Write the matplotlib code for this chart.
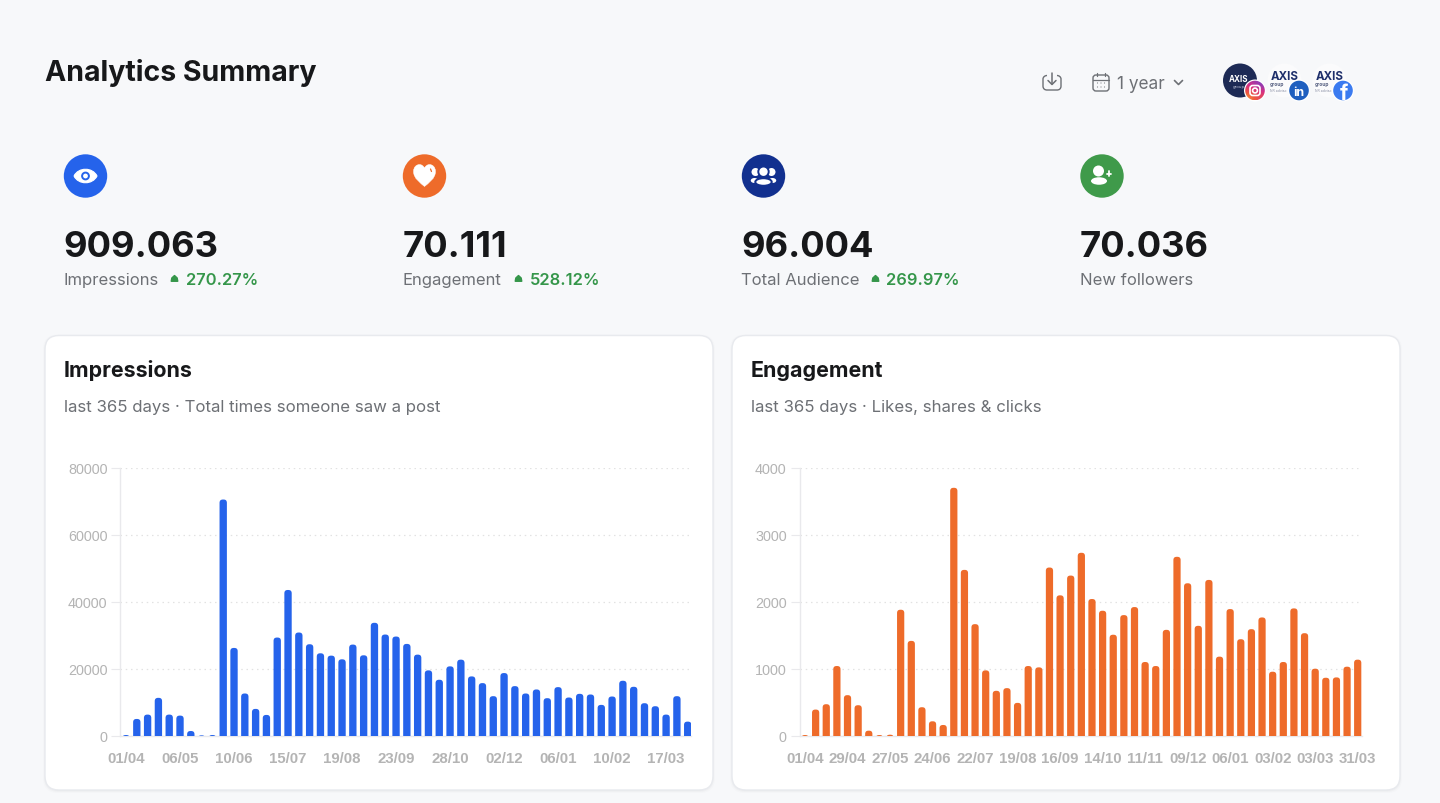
import numpy as np
import matplotlib
matplotlib.use("Agg")
import matplotlib.pyplot as plt
from matplotlib.patches import FancyBboxPatch, Circle, Ellipse, Polygon, PathPatch
from matplotlib.path import Path
from matplotlib.colors import LinearSegmentedColormap

# ---------- data ----------
impressions = [200, 5000, 6300, 11300, 6300, 6000, 1400, 100, 200, 70500, 26200, 12600, 8000, 6200,
               29300, 43500, 30800, 27300, 24600, 23900, 22800, 27200, 24000, 33700, 30200, 29600,
               27400, 24200, 19500, 16700, 20700, 22700, 17700, 15700, 11800, 18700, 14800, 12600,
               13800, 11200, 14500, 11400, 12500, 12300, 9200, 11700, 16400, 14600, 9700, 8800,
               6300, 11800, 4200]
engagement = [10, 390, 470, 1040, 605, 455, 75, 10, 15, 1880, 1415, 425, 215, 160, 3700, 2475, 1665,
              975, 670, 710, 490, 1040, 1020, 2510, 2095, 2390, 2730, 2040, 1865, 1507, 1800, 1920,
              1100, 1040, 1580, 2670, 2275, 1640, 2325, 1180, 1890, 1440, 1590, 1765, 955, 1100,
              1900, 1530, 1000, 865, 870, 1030, 1135]
imp_ticks = ["01/04", "06/05", "10/06", "15/07", "19/08", "23/09", "28/10", "02/12", "06/01", "10/02", "17/03"]
eng_ticks = ["01/04", "29/04", "27/05", "24/06", "22/07", "19/08", "16/09", "14/10", "11/11", "09/12",
             "06/01", "03/02", "03/03", "31/03"]
imp_yticks = [0, 20000, 40000, 60000, 80000]
eng_yticks = [0, 1000, 2000, 3000, 4000]
kpi_values = ["909.063", "70.111", "96.004", "70.036"]
kpi_labels = ["Impressions", "Engagement", "Total Audience", "New followers"]
kpi_deltas = ["270.27%", "528.12%", "269.97%", None]

W, H = 1440, 804
BG = "#f7f8fa"
BLUE = "#2563eb"
ORANGE = "#ee6b2a"
NAVY = "#12308f"
GREEN = "#3f9a4a"
DELTA = "#35964a"
INK = "#17181a"
GREY = "#6d7075"
TICK = "#b4b4b4"
LINE = "#e9e9ec"
GRID = "#e2e2e2"

plt.rcParams["font.family"] = ["Inter", "DejaVu Sans"]
fig = plt.figure(figsize=(W / 100, H / 100), dpi=100, facecolor=BG)
bg = fig.add_axes([0, 0, 1, 1], zorder=0)
bg.set_axis_off()


def T(x, y, s, size, color=INK, weight="normal", ha="left", zorder=5):
    return bg.text(x, y, s, fontsize=size, color=color, fontweight=weight, ha=ha, va="baseline", zorder=zorder)


def line(xs, ys, color, lw=1.1, zorder=5, cap="round"):
    bg.plot(xs, ys, color=color, lw=lw, solid_capstyle=cap, solid_joinstyle="round", zorder=zorder)


# ---------- cards ----------
for x0, x1 in [(45, 713), (732, 1400)]:
    for i, a in [(3, .012), (2, .018), (1, .025)]:
        bg.add_patch(FancyBboxPatch((x0 - i + 1, 336.5 - i + 2), x1 - x0 + 2 * i - 2, 454.5 + 2 * i - 2,
                                    boxstyle="round,pad=0,rounding_size=15", fc="#000000", ec="none", alpha=a, zorder=1))
    bg.add_patch(FancyBboxPatch((x0, 336.5), x1 - x0, 454.5, boxstyle="round,pad=0,rounding_size=14",
                                fc="white", ec="#e8eaee", lw=1, zorder=2))

# ---------- header ----------
T(45, 81, "Analytics Summary", 20.5, weight="bold")
T(1117, 89, "1 year", 12.4, color=GREY)

# download icon
dg = "#6d7075"
tray = Path([(1047, 76.5), (1045, 76.5), (1043, 78), (1043, 80), (1043, 87), (1043, 90), (1045, 91), (1047, 91),
             (1057, 91), (1059, 91), (1061, 90), (1061, 87), (1061, 80), (1061, 78), (1059, 76.5), (1057, 76.5)],
            [Path.MOVETO, Path.CURVE4, Path.CURVE4, Path.CURVE4, Path.LINETO, Path.CURVE4, Path.CURVE4, Path.CURVE4,
             Path.LINETO, Path.CURVE4, Path.CURVE4, Path.CURVE4, Path.LINETO, Path.CURVE4, Path.CURVE4, Path.CURVE4])
bg.add_patch(PathPatch(tray, fc="none", ec=dg, lw=1.0, zorder=5))
line([1052, 1052], [74, 85], dg)
line([1048, 1052, 1056], [81.5, 85.5, 81.5], dg)
# calendar icon
bg.add_patch(FancyBboxPatch((1093, 76), 16, 16, boxstyle="round,pad=0,rounding_size=3", fc="none", ec=dg, lw=1.0, zorder=5))
line([1093, 1109], [80.5, 80.5], dg, .9)
line([1097, 1097], [74, 77], dg, .9)
line([1105, 1105], [74, 77], dg, .9)
for cx in (1097.5, 1101, 1104.5):
    for cy in (84, 88):
        bg.add_patch(Circle((cx, cy), .55, fc=dg, ec="none", zorder=5))
line([1174.5, 1178.5, 1182.5], [81.5, 85.5, 81.5], dg, 1.2)

# avatars
bg.add_patch(Circle((1240, 81.5), 17, fc="#1d2a55", ec="none", zorder=3))
T(1239, 82, "AXIS", 5.8, color="white", weight="bold", ha="center", zorder=4)
T(1239, 88, "group", 3, color="#c8cde0", ha="center", zorder=4)
for tx in (1284.5, 1329.3):
    bg.add_patch(Circle((tx, 81.5), 17, fc="#fbfbfc", ec="none", zorder=3))
    T(tx, 79.5, "AXIS", 8.3, color="#1e2f6b", weight="bold", ha="center", zorder=4)
    T(tx - 14.5, 86, "group", 3.6, color="#555f80", weight="bold", zorder=4)
    T(tx - 14.5, 91.5, "NR advisc", 2.5, color="#8a90a5", zorder=4)

for cx in (1255, 1299, 1343):
    bg.add_patch(Circle((cx, 91.5), 11, fc="white", ec="none", zorder=5))
bg.add_patch(Circle((1299, 91.5), 9.8, fc="#1f5fbf", ec="none", zorder=6))
T(1299, 96, "in", 9, color="white", weight="bold", ha="center", zorder=7)
bg.add_patch(Circle((1343, 91.5), 9.8, fc="#3b7bf0", ec="none", zorder=6))
T(1344, 100, "f", 15, color="white", weight="bold", ha="center", zorder=7)
ig_cmap = LinearSegmentedColormap.from_list("ig", ["#f9c23c", "#ef5a3c", "#d62f83", "#7a3fc4"])
grad = bg.imshow(np.array([[0.75, 1.0], [.15, .5]]), cmap=ig_cmap, vmin=0, vmax=1, extent=(1245, 1265, 101, 81),
                 interpolation="bicubic", zorder=6)
grad.set_clip_path(Circle((1255, 91.5), 9.8, transform=bg.transData))
bg.add_patch(FancyBboxPatch((1250, 86.5), 10, 10, boxstyle="round,pad=0,rounding_size=2.8", fc="none", ec="white", lw=1.2, zorder=7))
bg.add_patch(Circle((1255, 91.5), 2.4, fc="none", ec="white", lw=1.2, zorder=7))

# ---------- KPI row ----------
kpi_x = [63.5, 402.5, 741.5, 1080]
kpi_c = [BLUE, ORANGE, NAVY, GREEN]
label_w = [95.5, 100.5, 118.5, 0]
CY = 177
for i, x in enumerate(kpi_x):
    cx = x + 22
    bg.add_patch(Circle((cx, CY), 21.7, fc=kpi_c[i], ec="none", zorder=3))
    T(x, 257, kpi_values[i], 26.2, weight="bold")
    T(x, 285, kpi_labels[i], 12, color=GREY)
    if kpi_deltas[i]:
        tx = x + label_w[i] + 15.5
        bg.add_patch(Polygon([(tx - 3.2, 282.2), (tx + 3.2, 282.2), (tx + 2.6, 279), (tx, 276.6), (tx - 2.6, 279)],
                             fc=DELTA, ec=DELTA, lw=1.1, joinstyle="round", zorder=5))
        T(tx + 11, 285, kpi_deltas[i], 11.9, color=DELTA, weight="semibold")

# eye icon
cx = 85.5
eye = Path([(cx - 11.5, CY), (cx - 7, CY - 9), (cx + 7, CY - 9), (cx + 11.5, CY), (cx + 7, CY + 9), (cx - 7, CY + 9), (cx - 11.5, CY)],
           [Path.MOVETO, Path.CURVE4, Path.CURVE4, Path.CURVE4, Path.CURVE4, Path.CURVE4, Path.CURVE4])
bg.add_patch(PathPatch(eye, fc="white", ec="white", lw=.8, zorder=4))
bg.add_patch(Circle((cx, CY), 3.4, fc="white", ec=BLUE, lw=1.4, zorder=5))
# heart icon
cx = 424.5
heart = Path([(cx, 187.5),
              (cx - 4, 184), (cx - 11, 179.5), (cx - 11, 172.5),
              (cx - 11, 168), (cx - 8, 165.5), (cx - 5, 165.5),
              (cx - 3, 165.5), (cx - 1, 167), (cx, 169),
              (cx + 1, 167), (cx + 3, 165.5), (cx + 5, 165.5),
              (cx + 8, 165.5), (cx + 11, 168), (cx + 11, 172.5),
              (cx + 11, 179.5), (cx + 4, 184), (cx, 187.5)],
             [Path.MOVETO] + [Path.CURVE4] * 18)
bg.add_patch(PathPatch(heart, fc="white", ec="white", lw=.3, zorder=4))
line([430.5, 431.5], [170, 172.5], ORANGE, .9)
# audience icon
cx = 763.5
for sx in (-1, 1):
    bg.add_patch(Circle((cx + sx * 8, 173), 4, fc="white", ec="none", zorder=4))
    bg.add_patch(Ellipse((cx + sx * 9, 181.5), 7.5, 5, fc="white", ec="none", zorder=4))
bg.add_patch(Circle((cx, 172.7), 5.2, fc="white", ec=NAVY, lw=1.4, zorder=5))
bg.add_patch(Ellipse((cx, 183), 16.5, 7.5, fc="white", ec=NAVY, lw=1.4, zorder=5))
# follower icon
cx = 1100
bg.add_patch(Circle((cx - 1.5, 172), 5.5, fc="white", ec="none", zorder=4))
bg.add_patch(Ellipse((cx - 1, 182), 16, 7.5, fc="white", ec="none", zorder=4))
line([cx + 6.8, cx + 11.2], [174.5, 174.5], "white", 1.3)
line([cx + 9, cx + 9], [172.3, 176.7], "white", 1.3)

# ---------- card text ----------
for x, head, sub in [(63.5, "Impressions", "last 365 days · Total times someone saw a post"),
                     (750.5, "Engagement", "last 365 days · Likes, shares & clicks")]:
    T(x, 377, head, 15.4, weight="bold")
    T(x + .5, 412, sub, 12.1, color=GREY)

bg.set_xlim(0, W)
bg.set_ylim(H, 0)


# ---------- charts ----------
def chart(px0, px1, first, last, values, color, labels, step, yticks):
    """px0/px1: plot edges in pixels, first/last: pixel centres of the outer bars."""
    py0, py1 = 468.7, 736.7
    ax = fig.add_axes([px0 / W, 1 - py1 / H, (px1 - px0) / W, (py1 - py0) / H], zorder=3)
    ax.patch.set_alpha(0)
    n = len(values)
    unit_x = (last - first) / (n - 1)
    ax.set_xlim((px0 - first) / unit_x, (px1 - first) / unit_x)
    ax.set_ylim(yticks[0], yticks[-1])
    x = np.arange(n)
    bars = ax.bar(x, values, width=.68, color=color, alpha=0, zorder=3)
    unit_y = (yticks[-1] - yticks[0]) / (py1 - py0)
    aspect = unit_y * unit_x
    drop = yticks[-1] * .1
    for b in bars:
        ax.add_patch(FancyBboxPatch((b.get_x(), -drop), b.get_width(), b.get_height() + drop,
                                    boxstyle="round,pad=0,rounding_size=0.3", mutation_aspect=aspect,
                                    fc=color, ec="none", zorder=3))
    ax.set_yticks(yticks, [str(v) for v in yticks])
    ax.set_xticks(x[::step], labels)
    ax.grid(axis="y", color=GRID, lw=.9, linestyle=(0, (1.2, 3)), zorder=0)
    ax.set_axisbelow(True)
    for s in ("top", "right"):
        ax.spines[s].set_visible(False)
    for s in ("left", "bottom"):
        ax.spines[s].set_color(LINE)
        ax.spines[s].set_linewidth(1)
    ax.tick_params(axis="y", length=6.2, width=.8, color=LINE, pad=3.2, labelcolor=TICK)
    ax.tick_params(axis="x", length=0, pad=11, labelcolor=TICK)
    for t in ax.get_yticklabels():
        t.set_fontfamily("Liberation Sans")
        t.set_fontsize(10.4)
    for t in ax.get_xticklabels():
        t.set_fontfamily("Liberation Sans")
        t.set_fontsize(10.8)
        t.set_fontweight("bold")
    return ax


chart(120.5, 691.5, 126, 687.7, impressions, BLUE, imp_ticks, 5, imp_yticks)
chart(799.7, 1361.7, 805, 1357.7, engagement, ORANGE, eng_ticks, 4, eng_yticks)

fig.savefig("out.png", dpi=100, facecolor=BG)
